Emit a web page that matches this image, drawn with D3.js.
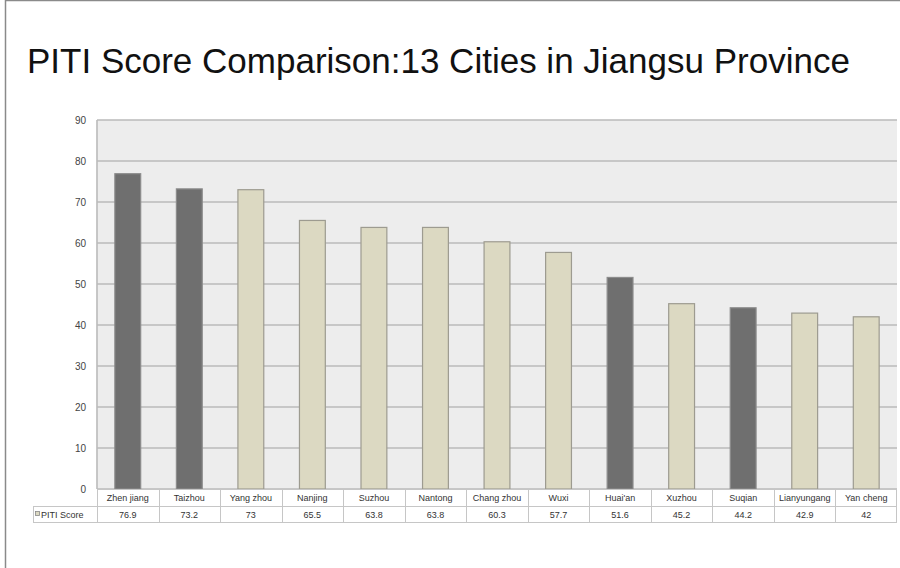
<!DOCTYPE html>
<html>
<head>
<meta charset="utf-8">
<script src="https://cdn.jsdelivr.net/npm/d3@7"></script>
<style>
  body { margin: 0; background: #fff; }
  svg { display: block; font-family: "Liberation Sans", Arial, sans-serif; }
</style>
</head>
<body>
<svg></svg>
<script>
const cities = ["Zhen jiang", "Taizhou", "Yang zhou", "Nanjing", "Suzhou", "Nantong",
    "Chang zhou", "Wuxi", "Huai'an", "Xuzhou", "Suqian", "Lianyungang", "Yan cheng"];
const scores = [76.9, 73.2, 73, 65.5, 63.8, 63.8, 60.3, 57.7, 51.6, 45.2, 44.2, 42.9, 42];
const scoreLabels = ["76.9", "73.2", "73", "65.5", "63.8", "63.8", "60.3", "57.7", "51.6", "45.2", "44.2", "42.9", "42"];
const darkCities = ["Zhen jiang", "Taizhou", "Huai'an", "Suqian"];
const yTicks = [0, 10, 20, 30, 40, 50, 60, 70, 80, 90];
const seriesName = "PITI Score";
const title = "PITI Score Comparison:13 Cities in Jiangsu Province";

const width = 900;
const height = 568;
const plot = { left: 97, right: 897, top: 120, bottom: 489 };

const data = cities.map((c, i) => ({ city: c, score: scores[i], label: scoreLabels[i] }));

const x = d3.scaleBand()
    .domain(cities)
    .range([plot.left, plot.right]);

const y = d3.scaleLinear()
    .domain([0, 90])
    .range([plot.bottom, plot.top]);

const svg = d3.select("svg")
    .attr("width", width)
    .attr("height", height)
    .attr("viewBox", [0, 0, width, height]);

// outer frame (top + left edges only)
svg.append("path")
    .attr("d", `M5.5,${height} V0.5 H${width}`)
    .attr("fill", "none")
    .attr("stroke", "#8a8a8a")
    .attr("stroke-width", 1.5);

svg.append("text")
    .attr("x", 27)
    .attr("y", 73)
    .attr("font-size", 35)
    .attr("fill", "#111")
    .text(title);

// plot background
svg.append("rect")
    .attr("x", plot.left)
    .attr("y", plot.top)
    .attr("width", plot.right - plot.left)
    .attr("height", plot.bottom - plot.top)
    .attr("fill", "#ededed");

// gridlines
svg.append("g")
    .selectAll("line")
    .data(yTicks)
    .join("line")
    .attr("x1", plot.left)
    .attr("x2", plot.right)
    .attr("y1", d => y(d))
    .attr("y2", d => y(d))
    .attr("stroke", "#bababa")
    .attr("stroke-width", 1.6);

svg.append("line")
    .attr("x1", plot.left).attr("x2", plot.left)
    .attr("y1", plot.top).attr("y2", plot.bottom)
    .attr("stroke", "#bababa")
    .attr("stroke-width", 1.6);

// y labels
svg.append("g")
    .selectAll("text")
    .data(yTicks)
    .join("text")
    .attr("x", 86)
    .attr("y", d => y(d) + 3.5)
    .attr("text-anchor", "end")
    .attr("font-size", 10)
    .attr("fill", "#444")
    .text(d => d);

// bars
const barW = x.bandwidth() * 0.42;
svg.append("g")
    .selectAll("rect")
    .data(data)
    .join("rect")
    .attr("x", d => x(d.city) + (x.bandwidth() - barW) / 2)
    .attr("y", d => y(d.score))
    .attr("width", barW)
    .attr("height", d => y(0) - y(d.score))
    .attr("fill", d => darkCities.includes(d.city) ? "#6f6f6f" : "#dcd9c2")
    .attr("stroke", d => darkCities.includes(d.city) ? "#8c8c8c" : "#9d9b90")
    .attr("stroke-width", 1.2);

// data table
const row1 = { top: 489, bottom: 506 };
const row2 = { top: 506, bottom: 522 };
const labelLeft = 33;
const table = svg.append("g")
    .attr("fill", "none")
    .attr("stroke", "#c6c6c6")
    .attr("stroke-width", 1);

table.append("path")
    .attr("d", [
        `M${plot.left},${row1.top + 0.5} H${plot.right}`,
        `M${labelLeft},${row2.top + 0.5} H${plot.right}`,
        `M${labelLeft},${row2.bottom + 0.5} H${plot.right}`,
        `M${labelLeft + 0.5},${row2.top} V${row2.bottom}`,
        `M${plot.right - 0.5},${row1.top} V${row2.bottom}`
    ].join(""));

table.selectAll("line")
    .data(cities)
    .join("line")
    .attr("x1", d => Math.round(x(d)) + 0.5)
    .attr("x2", d => Math.round(x(d)) + 0.5)
    .attr("y1", row1.top)
    .attr("y2", row2.bottom);

svg.append("g")
    .selectAll("text")
    .data(data)
    .join("text")
    .attr("x", d => x(d.city) + x.bandwidth() / 2)
    .attr("y", row1.bottom - 5)
    .attr("text-anchor", "middle")
    .attr("font-size", 9)
    .attr("fill", "#333")
    .text(d => d.city);

svg.append("g")
    .selectAll("text")
    .data(data)
    .join("text")
    .attr("x", d => x(d.city) + x.bandwidth() / 2)
    .attr("y", row2.bottom - 4.5)
    .attr("text-anchor", "middle")
    .attr("font-size", 9)
    .attr("fill", "#333")
    .text(d => d.label);

// series key + name
svg.append("rect")
    .attr("x", 35.5)
    .attr("y", 511.5)
    .attr("width", 4)
    .attr("height", 4)
    .attr("fill", "#dcd9c2")
    .attr("stroke", "#888")
    .attr("stroke-width", 0.8);

svg.append("text")
    .attr("x", 41)
    .attr("y", row2.bottom - 4.5)
    .attr("font-size", 9)
    .attr("fill", "#333")
    .text(seriesName);
</script>
</body>
</html>
